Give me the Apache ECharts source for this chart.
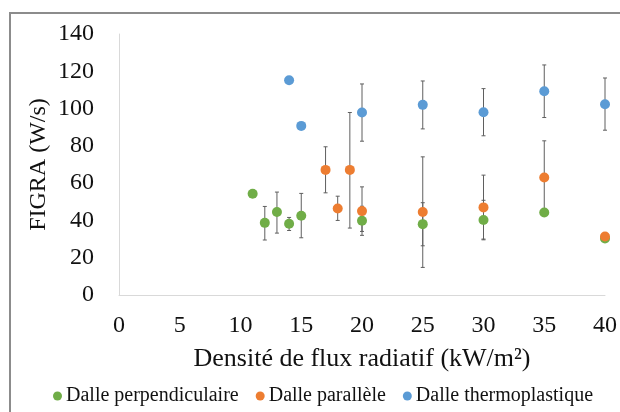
<!DOCTYPE html>
<html><head><meta charset="utf-8">
<script src="https://cdn.jsdelivr.net/npm/echarts@6/dist/echarts.min.js"></script>
<style>html,body{margin:0;padding:0;background:#fff}#c{width:620px;height:412px}</style>
</head><body><div id="c"></div>
<script>
// Dalle perpendiculaire
var perpX = [11, 12, 13, 14, 15, 20, 25, 30, 35, 40];
var perpY = [54.3, 38.7, 44.5, 38.2, 42.5, 39.8, 38, 40.2, 44.3, 30.3];
var perpHi = [null, 47.5, 55.2, 41.6, 54.5, 47.6, 49.5, 50.8, null, null];
var perpLo = [null, 29.5, 33.2, 34.6, 30.7, 32, 26.4, 29.6, null, null];
// Dalle parallèle
var paraX = [17, 18, 19, 20, 25, 30, 35, 40];
var paraY = [67.1, 46.4, 67.1, 45, 44.5, 47, 63, 31.4];
var paraHi = [79.5, 53, 97.9, 58, 74.1, 64.3, 82.7, null];
var paraLo = [54.8, 40, 35.9, 34.1, 14.8, 30, 43.3, null];
// Dalle thermoplastique
var thermoX = [14, 15, 20, 25, 30, 35, 40];
var thermoY = [115.2, 90.7, 97.9, 102, 98, 109.3, 102.3];
var thermoHi = [null, null, 113.2, 114.8, 110.7, 123.4, 116.4];
var thermoLo = [null, null, 82.5, 89.1, 85.4, 95.2, 88.4];

var seriesNames = ['Dalle perpendiculaire', 'Dalle parallèle', 'Dalle thermoplastique'];
var colors = ['#70AD47', '#ED7D31', '#5B9BD5'];
var xTicks = {min: 0, max: 40, interval: 5};
var yTicks = {min: 0, max: 140, interval: 20};

function pts(xs, ys) { return xs.map(function (x, i) { return [x, ys[i]]; }); }
function errs(xs, hi, lo) {
  var out = [];
  xs.forEach(function (x, i) { if (hi[i] != null) out.push([x, lo[i], hi[i]]); });
  return out;
}
function errSeries(data) {
  return {
    type: 'custom', data: data, silent: true, z: 1,
    renderItem: function (params, api) {
      var lo = api.coord([api.value(0), api.value(1)]);
      var hi = api.coord([api.value(0), api.value(2)]);
      var w = 2;
      var st = {stroke: '#5f5f5f', lineWidth: 1};
      return {type: 'group', children: [
        {type: 'line', shape: {x1: lo[0], y1: lo[1], x2: hi[0], y2: hi[1]}, style: st},
        {type: 'line', shape: {x1: lo[0] - w, y1: lo[1], x2: lo[0] + w, y2: lo[1]}, style: st},
        {type: 'line', shape: {x1: hi[0] - w, y1: hi[1], x2: hi[0] + w, y2: hi[1]}, style: st}
      ]};
    },
    encode: {x: 0, y: [1, 2]}
  };
}
function scat(name, data, color) {
  return {name: name, type: 'scatter', data: data, symbolSize: 10, z: 3,
    itemStyle: {color: color, opacity: 1}};
}

var font = 'Liberation Serif, Times New Roman, serif';
var chart = echarts.init(document.getElementById('c'), null, {renderer: 'canvas'});
chart.setOption({
  animation: false,
  color: colors,
  graphic: [{type: 'rect', shape: {x: 10, y: 13, width: 700, height: 500},
    style: {fill: 'none', stroke: '#8c8c8c', lineWidth: 2}, silent: true}],
  grid: {left: 119, right: 15, top: 34, bottom: 117, containLabel: false},
  legend: {
    data: seriesNames, bottom: 1, left: 53, icon: 'circle', padding: [5, 0, 5, 0],
    itemWidth: 9, itemHeight: 9, itemGap: 17,
    textStyle: {fontFamily: font, fontSize: 20, color: '#111', padding: [0, 0, 0, -1]}
  },
  xAxis: {
    type: 'value', min: xTicks.min, max: xTicks.max, interval: xTicks.interval,
    name: 'Densité de flux radiatif (kW/m²)', nameLocation: 'middle', nameGap: 51,
    nameMoveOverlap: false,
    nameTextStyle: {fontFamily: font, fontSize: 26, color: '#111'},
    axisLine: {show: true, lineStyle: {color: '#d9d9d9', width: 1}},
    axisTick: {show: false}, splitLine: {show: false},
    axisLabel: {fontFamily: font, fontSize: 24, color: '#111', margin: 19}
  },
  yAxis: {
    type: 'value', min: yTicks.min, max: yTicks.max, interval: yTicks.interval,
    name: 'FIGRA (W/s)', nameLocation: 'middle', nameGap: 68, nameRotate: 90,
    nameMoveOverlap: false,
    nameTextStyle: {fontFamily: font, fontSize: 24, color: '#111'},
    axisLine: {show: true, lineStyle: {color: '#d9d9d9', width: 1}},
    axisTick: {show: false}, splitLine: {show: false},
    axisLabel: {fontFamily: font, fontSize: 24, color: '#111', margin: 25}
  },
  series: [
    errSeries(errs(perpX, perpHi, perpLo)),
    scat(seriesNames[0], pts(perpX, perpY), colors[0]),
    errSeries(errs(paraX, paraHi, paraLo)),
    scat(seriesNames[1], pts(paraX, paraY), colors[1]),
    errSeries(errs(thermoX, thermoHi, thermoLo)),
    scat(seriesNames[2], pts(thermoX, thermoY), colors[2])
  ]
});
</script></body></html>
